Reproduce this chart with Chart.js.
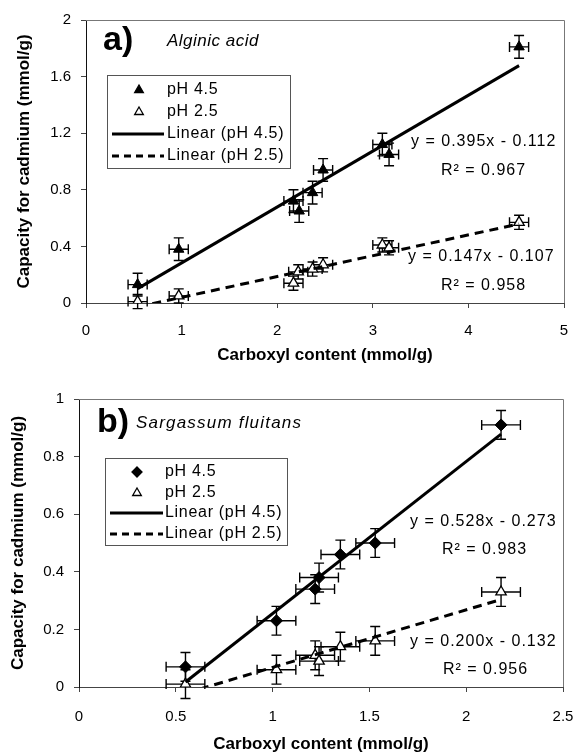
<!DOCTYPE html>
<html><head><meta charset="utf-8">
<script src="https://cdn.jsdelivr.net/npm/chart.js@4.4.1/dist/chart.umd.min.js"></script>
<style>
html,body{margin:0;padding:0;background:#fff;width:574px;height:753px;overflow:hidden;}
#w1{position:absolute;left:0;top:0;width:574px;height:375px;}
#w2{position:absolute;left:0;top:375px;width:574px;height:378px;}
</style></head><body>
<div id="w1"><canvas id="c1" width="574" height="375"></canvas></div>
<div id="w2"><canvas id="c2" width="574" height="378"></canvas></div>
<script>
const FONT = "'Liberation Sans', Arial, Helvetica, sans-serif";

// ---------- Panel a) Alginic acid ----------
const aCarboxyl45 = [0.54, 0.97, 2.17, 2.23, 2.37, 2.48, 3.10, 3.17, 4.53];
const aCapacity45 = [0.13, 0.38, 0.72, 0.65, 0.78, 0.94, 1.12, 1.05, 1.81];
const aErrX45     = [0.10, 0.10, 0.10, 0.10, 0.10, 0.10, 0.10, 0.10, 0.10];
const aErrY45     = [0.08, 0.08, 0.08, 0.08, 0.08, 0.08, 0.08, 0.08, 0.08];
const aCarboxyl25 = [0.54, 0.97, 2.17, 2.22, 2.37, 2.48, 3.10, 3.17, 4.53];
const aCapacity25 = [0.01, 0.05, 0.14, 0.22, 0.24, 0.27, 0.41, 0.39, 0.57];
const aErrX25     = [0.10, 0.10, 0.10, 0.10, 0.10, 0.10, 0.10, 0.10, 0.10];
const aErrY25     = [0.05, 0.05, 0.05, 0.05, 0.05, 0.05, 0.05, 0.05, 0.05];
const aFit45 = [0.395, -0.112];   // slope, intercept (from the chart's equation)
const aFit25 = [0.147, -0.107];
const aFitRange = [0.54, 4.53];
const aXAxis = [0, 5, 1];         // min, max, step
const aYAxis = [0, 2, 0.4];
const aEq = ['y = 0.395x - 0.112', 'R\u00B2 = 0.967', 'y = 0.147x - 0.107', 'R\u00B2 = 0.958'];

// ---------- Panel b) Sargassum fluitans ----------
const bCarboxyl45 = [0.55, 1.02, 1.22, 1.24, 1.35, 1.53, 2.18];
const bCapacity45 = [0.07, 0.23, 0.34, 0.38, 0.46, 0.50, 0.91];
const bErrX45     = [0.10, 0.10, 0.10, 0.10, 0.10, 0.10, 0.10];
const bErrY45     = [0.05, 0.05, 0.05, 0.05, 0.05, 0.05, 0.05];
const bCarboxyl25 = [0.55, 1.02, 1.22, 1.24, 1.35, 1.53, 2.18];
const bCapacity25 = [0.01, 0.06, 0.11, 0.09, 0.14, 0.16, 0.33];
const bErrX25     = [0.10, 0.10, 0.10, 0.10, 0.10, 0.10, 0.10];
const bErrY25     = [0.05, 0.05, 0.05, 0.05, 0.05, 0.05, 0.05];
const bFit45 = [0.528, -0.273];
const bFit25 = [0.200, -0.132];
const bFitRange = [0.55, 2.18];
const bXAxis = [0, 2.5, 0.5];
const bYAxis = [0, 1, 0.2];
const bEq = ['y = 0.528x - 0.273', 'R\u00B2 = 0.983', 'y = 0.200x - 0.132', 'R\u00B2 = 0.956'];

const xTitle = 'Carboxyl content (mmol/g)';
const yTitle = 'Capacity for cadmium (mmol/g)';
const seriesNames = ['pH 4.5', 'pH 2.5', 'Linear (pH 4.5)', 'Linear (pH 2.5)'];

function pts(xs, ys){ return xs.map((x,i)=>({x:x, y:ys[i]})); }
function fitLine(f, r){ return r.map(x=>({x:x, y:f[0]*x+f[1]})); }
function fmt(v){ return String(Number(v.toFixed(3))); }

const errorBars = {
  id:'errorBars',
  beforeDatasetsDraw(chart){
    const ctx = chart.ctx, xs = chart.scales.x, ys = chart.scales.y;
    ctx.save();
    ctx.strokeStyle = '#000'; ctx.lineWidth = 1.4;
    chart.data.datasets.forEach(ds=>{
      if(!ds.errX) return;
      ds.data.forEach((p,i)=>{
        const px = xs.getPixelForValue(p.x), py = ys.getPixelForValue(p.y);
        const x0 = xs.getPixelForValue(p.x - ds.errX[i]), x1 = xs.getPixelForValue(p.x + ds.errX[i]);
        const y0 = ys.getPixelForValue(p.y - ds.errY[i]), y1 = ys.getPixelForValue(p.y + ds.errY[i]);
        const c = 5;
        ctx.beginPath();
        ctx.moveTo(x0, py); ctx.lineTo(x1, py);
        ctx.moveTo(x0, py-c); ctx.lineTo(x0, py+c);
        ctx.moveTo(x1, py-c); ctx.lineTo(x1, py+c);
        ctx.moveTo(px, y0); ctx.lineTo(px, y1);
        ctx.moveTo(px-c, y0); ctx.lineTo(px+c, y0);
        ctx.moveTo(px-c, y1); ctx.lineTo(px+c, y1);
        ctx.stroke();
      });
    });
    ctx.restore();
  }
};

function marker(ctx, style, x, y, r, filled){
  ctx.beginPath();
  if(style === 'triangle'){
    ctx.moveTo(x, y - r);
    ctx.lineTo(x + r*0.866, y + r*0.5);
    ctx.lineTo(x - r*0.866, y + r*0.5);
  } else {
    ctx.moveTo(x, y - r); ctx.lineTo(x + r, y); ctx.lineTo(x, y + r); ctx.lineTo(x - r, y);
  }
  ctx.closePath();
  ctx.fillStyle = filled ? '#000' : '#fff';
  ctx.fill();
  ctx.lineWidth = 1.3; ctx.strokeStyle = '#000'; ctx.stroke();
}

function makeAnnot(cfg){
  return {
    id:'annot',
    afterDraw(chart){
      const ctx = chart.ctx, a = chart.chartArea;
      ctx.save();
      // plot frame (top/right)
      ctx.strokeStyle = '#777'; ctx.lineWidth = 1;
      ctx.beginPath();
      ctx.moveTo(a.left, a.top + 0.5); ctx.lineTo(a.right + 0.5, a.top + 0.5); ctx.lineTo(a.right + 0.5, a.bottom);
      ctx.stroke();
      ctx.fillStyle = '#000'; ctx.textBaseline = 'middle'; ctx.textAlign = 'left';
      // panel letter + name
      ctx.font = 'bold 34px ' + FONT;
      ctx.fillText(cfg.letter, cfg.letterX, cfg.letterY);
      ctx.font = 'italic 17px ' + FONT;
      ctx.letterSpacing = cfg.nameSpacing;
      ctx.fillText(cfg.name, cfg.nameX, cfg.letterY);
      ctx.letterSpacing = '0.7px';
      // legend
      const L = cfg.legend;
      ctx.fillStyle = '#fff';
      ctx.fillRect(L.x0, L.y0, L.x1 - L.x0, L.y1 - L.y0);
      ctx.strokeStyle = '#555'; ctx.lineWidth = 1;
      ctx.strokeRect(L.x0 + 0.5, L.y0 + 0.5, L.x1 - L.x0, L.y1 - L.y0);
      const ds = chart.data.datasets;
      marker(ctx, cfg.style45, L.mx, L.rows[0], 5, true);
      marker(ctx, 'triangle', L.mx, L.rows[1], 5, false);
      ctx.strokeStyle = '#000'; ctx.lineWidth = 3;
      ctx.beginPath(); ctx.moveTo(L.lx0, L.rows[2]); ctx.lineTo(L.lx1, L.rows[2]); ctx.stroke();
      ctx.setLineDash([7,5]);
      ctx.beginPath(); ctx.moveTo(L.lx0, L.rows[3]); ctx.lineTo(L.lx1, L.rows[3]); ctx.stroke();
      ctx.setLineDash([]);
      ctx.fillStyle = '#000';
      ctx.font = '16px ' + FONT;
      for(let i=0;i<4;i++) ctx.fillText(ds[i].label, L.tx, L.rows[i]);
      // equations
      ctx.letterSpacing = '1px';
      cfg.eq.forEach((t,i)=> ctx.fillText(t, cfg.eqPos[i][0], cfg.eqPos[i][1]));
      ctx.restore();
    }
  };
}

function buildChart(id, d){
  const tickFont = {family: FONT, size: 15};
  const titleFont = {family: FONT, size: 17, weight: 'bold', lineHeight: 1};
  return new Chart(document.getElementById(id), {
    type: 'scatter',
    data: { datasets: [
      { label: seriesNames[0], data: pts(d.x45, d.y45), errX: d.ex45, errY: d.ey45,
        pointStyle: d.style45, pointRadius: 6, pointHoverRadius: 6, backgroundColor:'#000', borderColor:'#000', borderWidth:1, order: 2 },
      { label: seriesNames[1], data: pts(d.x25, d.y25), errX: d.ex25, errY: d.ey25,
        pointStyle: 'triangle', pointRadius: 6, pointHoverRadius: 6, backgroundColor:'#fff', borderColor:'#000', borderWidth:1.3, order: 3 },
      { label: seriesNames[2], data: fitLine(d.f45, d.range), showLine: true, pointRadius: 0,
        borderColor:'#000', borderWidth: 3, order: 0 },
      { label: seriesNames[3], data: fitLine(d.f25, d.range), showLine: true, pointRadius: 0,
        borderColor:'#000', borderWidth: 3, borderDash: [9,6], order: 1 }
    ]},
    options: {
      responsive: false, animation: false, events: [],
      layout: { padding: d.pad },
      plugins: { legend: {display:false}, tooltip: {enabled:false} },
      scales: {
        x: { type:'linear', min: d.xa[0], max: d.xa[1],
          ticks: { stepSize: d.xa[2], font: tickFont, color:'#000', padding: d.xTickPad, maxRotation: 0, callback: fmt },
          grid: { drawOnChartArea:false, drawTicks:true, tickLength:5, tickColor:'#444' },
          border: { color:'#444', width:1 },
          title: { display:true, text: xTitle, font: titleFont, color:'#000', padding:{top:0, bottom: d.xTitlePad} },
          afterFit(s){ s.height = d.xH; s.paddingLeft = 0; s.paddingRight = 0; }
        },
        y: { type:'linear', min: d.ya[0], max: d.ya[1],
          ticks: { stepSize: d.ya[2], font: tickFont, color:'#000', padding: 10, callback: fmt },
          grid: { drawOnChartArea:false, drawTicks:true, tickLength:5, tickColor:'#444' },
          border: { color:'#111', width:1 },
          title: { display:true, text: yTitle, font: titleFont, color:'#000', padding:{top: d.yTitlePad, bottom:0} },
          afterFit(s){ s.width = d.yW; s.paddingTop = 0; s.paddingBottom = 0; }
        }
      }
    },
    plugins: [errorBars, makeAnnot(d.annot)]
  });
}

buildChart('c1', {
  x45:aCarboxyl45, y45:aCapacity45, ex45:aErrX45, ey45:aErrY45,
  x25:aCarboxyl25, y25:aCapacity25, ex25:aErrX25, ey25:aErrY25,
  f45:aFit45, f25:aFit25, range:aFitRange, xa:aXAxis, ya:aYAxis, style45:'triangle',
  pad:{left:0, right:10, top:20, bottom:0}, xH:72, yW:86, xTickPad:14, xTitlePad:11.5, yTitlePad:15.5,
  annot:{ letter:'a)', letterX:103, letterY:41, name:'Alginic acid', nameX:167, nameSpacing:'0.5px', style45:'triangle',
    legend:{x0:107, y0:75, x1:290, y1:168, mx:139, tx:167, lx0:112, lx1:164, rows:[90,112,134,156]},
    eq:aEq, eqPos:[[411,142],[441,171],[408,257],[441,286]] }
});

buildChart('c2', {
  x45:bCarboxyl45, y45:bCapacity45, ex45:bErrX45, ey45:bErrY45,
  x25:bCarboxyl25, y25:bCapacity25, ex25:bErrX25, ey25:bErrY25,
  f45:bFit45, f25:bFit25, range:bFitRange, xa:bXAxis, ya:bYAxis, style45:'rectRot',
  pad:{left:0, right:11, top:24, bottom:0}, xH:66, yW:79, xTickPad:16, xTitlePad:0, yTitlePad:9.5,
  annot:{ letter:'b)', letterX:97, letterY:48, name:'Sargassum fluitans', nameX:136, nameSpacing:'1.2px', style45:'diamond',
    legend:{x0:105, y0:83, x1:287, y1:170, mx:137, tx:165, lx0:110, lx1:163, rows:[97,118,138,159]},
    eq:bEq, eqPos:[[410,147],[442,175],[410,267],[443,295]] }
});
</script>
</body></html>
